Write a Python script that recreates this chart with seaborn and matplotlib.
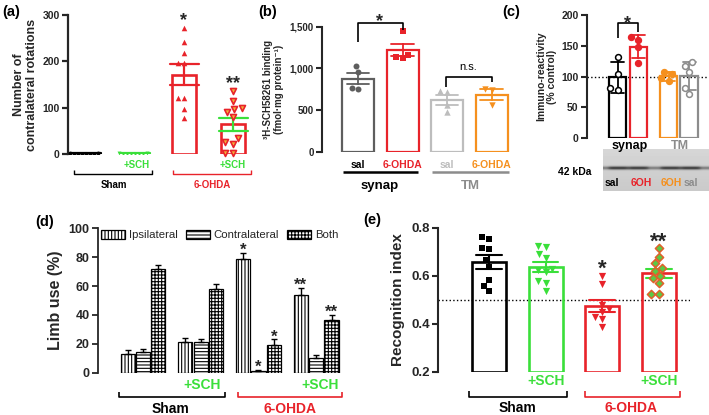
import numpy as np
import pandas as pd
import matplotlib
matplotlib.use("Agg")
import matplotlib.pyplot as plt
import matplotlib.transforms as mtransforms
import matplotlib.patches as mpatches
from matplotlib.ticker import StrMethodFormatter
import seaborn as sns

# ---------------- data ----------------
a_groups = ["Sham", "Sham+SCH", "6-OHDA", "6-OHDA+SCH"]
a_sham = [0, 1, 0, 2, 1, 0, 2, 1]
a_sham_sch = [0, 1, 2, 0, 1, 0, 2, 1]
a_ohda = [272, 242, 218, 196, 196, 121, 121, 97, 78]
a_ohda_sch = [135, 115, 100, 98, 90, 80, 35, 25, 22, 3, 2]
a_yticks = [0, 100, 200, 300]

b_conditions = ["synap sal", "synap 6-OHDA", "TM sal", "TM 6-OHDA"]
b_ticklabels = ["sal", "6-OHDA", "sal", "6-OHDA"]
b_sal_synap = [1028, 962, 764, 752]
b_ohda_synap = [1450, 1160, 1140, 1130]
b_sal_tm = [725, 715, 560, 480]
b_ohda_tm = [750, 745, 560]
b_yticks = [0, 500, 1000, 1500]

c_regions = ["synap", "TM"]
c_lanes = ["sal", "6OH", "6OH", "sal"]
c_lane_region = ["synap", "synap", "TM", "TM"]
c_sal_synap = [132, 104, 81, 78]
c_ohda_synap = [165, 160, 148, 122]
c_ohda_tm = [108, 104, 97, 93]
c_sal_tm = [123, 118, 108, 82, 72]
c_yticks = [0, 50, 100, 150, 200]

d_groups = ["Sham", "Sham+SCH", "6-OHDA", "6-OHDA+SCH"]
d_sides = ["Ipsilateral", "Contralateral", "Both"]
d_ipsi = [13, 21, 79, 54]
d_contra = [14, 21, 1.5, 10]
d_both = [72, 58, 19.5, 36.5]
d_ipsi_sem = [3, 3, 4, 5]
d_contra_sem = [2.5, 2, 0.5, 2.5]
d_both_sem = [2.5, 3.5, 3.5, 3.5]
d_yticks = [0, 20, 40, 60, 80, 100]
d_sig = [("6-OHDA", "Ipsilateral", "*"), ("6-OHDA", "Contralateral", "*"),
         ("6-OHDA", "Both", "*"), ("6-OHDA+SCH", "Ipsilateral", "**"),
         ("6-OHDA+SCH", "Both", "**")]

e_groups = ["Sham", "Sham+SCH", "6-OHDA", "6-OHDA+SCH"]
e_sham = [0.753, 0.763, 0.714, 0.71, 0.665, 0.638, 0.582, 0.558, 0.536]
e_sham_sch = [0.725, 0.72, 0.69, 0.675, 0.63, 0.625, 0.615, 0.58, 0.57, 0.535]
e_ohda = [0.60, 0.565, 0.48, 0.46, 0.45, 0.43, 0.42, 0.385]
e_ohda_sch = [0.714, 0.679, 0.651, 0.633, 0.62, 0.60, 0.59, 0.57, 0.522, 0.522]
e_yticks = [0.2, 0.4, 0.6, 0.8]

# ---------------- style ----------------
sns.set_theme(style="ticks")
plt.rcParams["font.family"] = ["Liberation Sans", "DejaVu Sans"]
plt.rcParams["font.weight"] = "bold"
plt.rcParams["axes.labelweight"] = "bold"
plt.rcParams["hatch.linewidth"] = 0.8

RED = "#E8232A"
GREEN = "#3ADF3A"
ORANGE = "#F5901E"
DGRAY = "#5E5E5E"
LGRAY = "#BDBDBD"
GRAY = "#8C8C8C"
BLACK = "black"

W, H = 709, 415
fig = plt.figure(figsize=(W / 100, H / 100), dpi=100)
fig.patch.set_facecolor("white")
PX = mtransforms.Affine2D().scale(1 / W, -1 / H).translate(0, 1) + fig.transFigure


def add_ax(x0, x1, ytop, ybot):
    return fig.add_axes([x0 / W, 1 - ybot / H, (x1 - x0) / W, (ybot - ytop) / H])


def txt(x, y, s, size, color=BLACK, weight="bold", ha="center", va="center"):
    fig.text(x, y, s, transform=PX, fontsize=size, color=color,
             fontweight=weight, ha=ha, va=va)


def star(x, yc, s, size):
    base = yc + 0.58 * size * 100 / 72
    fig.text(x, base, s, transform=PX, fontsize=size, ha="center",
             va="baseline", fontweight="bold")


def line(xs, ys, color=BLACK, lw=1.2):
    fig.add_artist(plt.Line2D(xs, ys, transform=PX, color=color, lw=lw,
                              solid_capstyle="butt"))


def group_bracket(x0, x1, y, tick, color, lw=1.2):
    line([x0, x0, x1, x1], [y - tick, y, y, y - tick], color, lw)


def style_ax(ax, tick_size, lw=1.5, ylabel="", ylabel_size=9, labelpad=3):
    sns.despine(ax=ax, bottom=True)
    ax.spines["left"].set_linewidth(lw)
    ax.tick_params(axis="y", labelsize=tick_size, width=lw, length=4, pad=2)
    ax.tick_params(axis="x", length=0)
    ax.set_xlabel("")
    ax.set_ylabel(ylabel, fontsize=ylabel_size, fontweight="bold",
                  labelpad=labelpad, linespacing=1.15)
    ax.set_facecolor("none")


def outline_bars(ax, colors, lw):
    ps = sorted(ax.patches, key=lambda p: p.get_x())
    for p, c in zip(ps, colors):
        p.set_facecolor("none")
        p.set_edgecolor(c)
        p.set_linewidth(lw)


def color_lines(ax, colors):
    ls = sorted(ax.lines, key=lambda l: np.nanmean(np.asarray(l.get_xdata(), float)))
    for l, c in zip(ls, colors):
        l.set_color(c)


def swarm(ax, df, xcol, ycol, group, order, marker, fc, ec, size, lw=0.0):
    sub = df[df[xcol] == group]
    sns.swarmplot(data=sub, x=xcol, y=ycol, order=order, marker=marker,
                  color=fc, size=size, ax=ax, warn_thresh=1, legend=False)
    col = ax.collections[-1]
    col.set_facecolor(fc)
    col.set_edgecolor(ec)
    col.set_linewidth(lw)
    col.set_clip_on(False)


def long_df(groups, arrays, gcol="group", vcol="value"):
    return pd.DataFrame({gcol: np.repeat(groups, [len(a) for a in arrays]),
                         vcol: np.concatenate([np.asarray(a, float) for a in arrays])})


# ================= panel (a) =================
df_a = long_df(a_groups, [a_sham, a_sham_sch, a_ohda, a_ohda_sch])
ax = add_ax(68, 252, 15, 154)
sns.barplot(data=df_a, x="group", y="value", order=a_groups, errorbar="se",
            capsize=0.6, width=0.49, err_kws={"linewidth": 1.6}, ax=ax)
outline_bars(ax, [BLACK, GREEN, RED, RED], 1.9)
color_lines(ax, [BLACK, GREEN, RED, GREEN])
swarm(ax, df_a, "group", "value", "Sham", a_groups, "o", BLACK, BLACK, 2.8)
swarm(ax, df_a, "group", "value", "Sham+SCH", a_groups, "v", GREEN, GREEN, 2.8)
swarm(ax, df_a, "group", "value", "6-OHDA", a_groups, "^", RED, RED, 4.0)
swarm(ax, df_a, "group", "value", "6-OHDA+SCH", a_groups, "v", "#F2B23A", RED, 4.3, 1.2)
ax.set_ylim(0, 300)
ax.set_yticks(a_yticks)
ax.set_xlim(-0.367, 3.38)
ax.set_xticks([])
style_ax(ax, 7.5, 1.6, "Number of\ncontralateral rotations", 9, 3)

txt(2, 12, "(a)", 10.5, ha="left")
star(184, 15, "*", 13)
star(233, 78, "**", 13)
txt(137, 164.5, "+SCH", 7, GREEN)
txt(233, 164.5, "+SCH", 7, GREEN)
group_bracket(74, 152, 174, 4, BLACK, 1.0)
group_bracket(173, 251, 174, 4, RED, 1.0)
txt(114, 185, "Sham", 7)
txt(212, 185, "6-OHDA", 7, RED)

# ================= panel (b) =================
df_b = long_df(b_conditions, [b_sal_synap, b_ohda_synap, b_sal_tm, b_ohda_tm], "cond")
ax = add_ax(322, 512, 26.7, 151.7)
sns.barplot(data=df_b, x="cond", y="value", order=b_conditions, errorbar="se",
            capsize=0.5, width=0.72, err_kws={"linewidth": 1.3}, ax=ax)
b_colors = [DGRAY, RED, LGRAY, ORANGE]
outline_bars(ax, b_colors, 1.6)
color_lines(ax, b_colors)
swarm(ax, df_b, "cond", "value", b_conditions[0], b_conditions, "o", DGRAY, DGRAY, 4.3)
swarm(ax, df_b, "cond", "value", b_conditions[1], b_conditions, "s", RED, RED, 4.3)
swarm(ax, df_b, "cond", "value", b_conditions[2], b_conditions, "^", LGRAY, LGRAY, 4.6)
swarm(ax, df_b, "cond", "value", b_conditions[3], b_conditions, "v", ORANGE, ORANGE, 4.6)
ax.set_ylim(0, 1500)
ax.set_yticks(b_yticks)
ax.yaxis.set_major_formatter(StrMethodFormatter("{x:,.0f}"))
ax.set_xlim(-0.81, 3.46)
ax.set_xticks(range(len(b_ticklabels)))
ax.set_xticklabels(b_ticklabels)
style_ax(ax, 7, 1.5, "³H-SCH58261 binding\n(fmol·mg protein⁻¹)", 7, 4)
ax.tick_params(axis="x", labelsize=7.5, pad=6)
for lab, c in zip(ax.get_xticklabels(), [BLACK, RED, LGRAY, ORANGE]):
    lab.set_color(c)
    lab.set_fontweight("bold")

txt(258, 12, "(b)", 10.5, ha="left")
line([358, 358, 403, 403], [42.5, 23, 23, 30], BLACK, 1.2)
star(380, 16, "*", 13)
line([446, 446, 491.5, 491.5], [87, 77, 77, 82], BLACK, 1.2)
txt(468, 67, "n.s.", 8, weight="normal")
line([343, 418], [172.5, 172.5], BLACK, 1.8)
line([432, 509], [172.5, 172.5], GRAY, 1.8)
txt(380, 186, "synap", 9.5)
txt(470, 186, "TM", 9.5, GRAY)

# ================= panel (c) =================
c_slot = pd.Series(c_lane_region).groupby(c_lane_region).cumcount().map(
    {0: "first", 1: "second"}).tolist()
c_arrays = [c_sal_synap, c_ohda_synap, c_ohda_tm, c_sal_tm]
df_c = pd.DataFrame({
    "region": np.repeat(c_lane_region, [len(a) for a in c_arrays]),
    "slot": np.repeat(c_slot, [len(a) for a in c_arrays]),
    "value": np.concatenate([np.asarray(a, float) for a in c_arrays]),
})
ax = add_ax(587, 707, 15, 138.3)
sns.barplot(data=df_c, x="region", y="value", hue="slot", order=c_regions,
            hue_order=["first", "second"], errorbar="sd", capsize=0.5,
            width=0.8, gap=0.15, err_kws={"linewidth": 1.3}, legend=False, ax=ax)
c_colors = [BLACK, RED, ORANGE, GRAY]
outline_bars(ax, c_colors, 1.6)
color_lines(ax, c_colors)
sns.swarmplot(data=df_c, x="region", y="value", hue="slot", order=c_regions,
              hue_order=["first", "second"], dodge=True, size=4.2,
              legend=False, warn_thresh=1, ax=ax)
c_face = ["white", RED, ORANGE, "white"]
c_edge = [BLACK, RED, ORANGE, GRAY]
cols = sorted(ax.collections, key=lambda c: np.mean(c.get_offsets()[:, 0]))
for col, fc, ec in zip(cols, c_face, c_edge):
    col.set_facecolor(fc)
    col.set_edgecolor(ec)
    col.set_linewidth(1.1)
    col.set_clip_on(False)
ax.axhline(100, ls=":", color=BLACK, lw=1.0, zorder=0.5)
ax.set_ylim(0, 200)
ax.set_yticks(c_yticks)
ax.set_xlim(-0.804, 1.55)
ax.set_xticks([])
style_ax(ax, 7.5, 1.5, "Immuno-reactivity\n(% control)", 7.5, 3)

txt(502, 12, "(c)", 10.5, ha="left")
line([618, 618, 638, 638], [38, 23, 23, 32], BLACK, 1.2)
star(628, 18, "*", 13)

# western blot strip (illustrative image)
axb = add_ax(603, 709, 149.3, 191)
rows, ncols = 42, 106
yy = np.arange(rows)[:, None]
xx = np.arange(ncols)[None, :]
lane_centres = [15, 35, 67, 87]
lane = sum(np.exp(-((xx - c) / 10.0) ** 6) for c in lane_centres)
band = np.exp(-((yy - 18.5) / 1.7) ** 2)
img = 0.79 + 0.05 * (1 - yy / rows) - 0.58 * band * (0.55 + 0.45 * lane)
axb.imshow(img, cmap="gray", vmin=0, vmax=1, aspect="auto", interpolation="bilinear")
axb.set_axis_off()

txt(630, 146, "synap", 9)
txt(680, 146, "TM", 9, GRAY)
txt(575, 171.5, "42 kDa", 7.5)
for x, lab, c in zip([612, 641, 671, 691], c_lanes, [BLACK, RED, ORANGE, GRAY]):
    txt(x, 183, lab, 7.5, c)

# ================= panel (d) =================
df_d = pd.DataFrame({
    "group": np.tile(d_groups, len(d_sides)),
    "side": np.repeat(d_sides, len(d_groups)),
    "value": d_ipsi + d_contra + d_both,
    "sem": d_ipsi_sem + d_contra_sem + d_both_sem,
})
ax = add_ax(98, 345, 228.3, 372.7)
sns.barplot(data=df_d, x="group", y="value", hue="side", order=d_groups,
            hue_order=d_sides, errorbar=None, width=0.8, gap=0.08,
            legend=False, ax=ax)
hatches = {"Ipsilateral": "|||||", "Contralateral": "-----", "Both": "+++++"}
bar_pos = {}
for p, (_, row) in zip(ax.patches, df_d.iterrows()):
    p.set_facecolor("white")
    p.set_edgecolor(BLACK)
    p.set_linewidth(0.9)
    p.set_hatch(hatches[row["side"]])
    xc = p.get_x() + p.get_width() / 2
    bar_pos[(row["group"], row["side"])] = (xc, p.get_height(), row["sem"])
    ax.errorbar([xc], [p.get_height()], yerr=[[0], [row["sem"]]], fmt="none",
                ecolor=BLACK, elinewidth=1.0, capsize=2.5, capthick=1.0)
for g, s, lab in d_sig:
    xc, h, sem = bar_pos[(g, s)]
    ax.annotate(lab, xy=(xc, h + sem), xytext=(0, -1.5), textcoords="offset points",
                ha="center", va="baseline", fontsize=12, fontweight="bold",
                annotation_clip=False)
ax.set_ylim(0, 100)
ax.set_yticks(d_yticks)
ax.set_xlim(-0.78, 3.5)
ax.set_xticks([])
style_ax(ax, 9, 1.3, "Limb use (%)", 11.5, 4)
handles = [mpatches.Patch(facecolor="white", edgecolor=BLACK, hatch=hatches[s],
                          label=s, linewidth=0.9) for s in d_sides]
ax.legend(handles=handles, ncol=3, loc="upper left", bbox_to_anchor=(99, 228),
          bbox_transform=PX, frameon=False, prop={"size": 8.2, "weight": "normal"},
          handlelength=2.1, handleheight=0.75, handletextpad=0.35,
          columnspacing=0.7, borderaxespad=0, borderpad=0.2)

txt(35, 222, "(d)", 10.5, ha="left")
txt(202, 385, "+SCH", 10, GREEN)
txt(320, 385, "+SCH", 10, GREEN)
group_bracket(119, 225, 396.7, 5, BLACK, 1.2)
group_bracket(238, 342, 396.7, 5, RED, 1.2)
txt(170, 409, "Sham", 10)
txt(290, 409, "6-OHDA", 10, RED)

# ================= panel (e) =================
df_e = long_df(e_groups, [e_sham, e_sham_sch, e_ohda, e_ohda_sch])
ax = add_ax(438, 690, 227.7, 371.7)
sns.barplot(data=df_e, x="group", y="value", order=e_groups, errorbar="se",
            capsize=0.45, width=0.6, err_kws={"linewidth": 1.5}, ax=ax)
e_floor = e_yticks[0]
for p in ax.patches:
    top = p.get_y() + p.get_height()
    p.set_y(e_floor)
    p.set_height(top - e_floor)
outline_bars(ax, [BLACK, GREEN, RED, RED], 1.9)
color_lines(ax, [BLACK, GREEN, RED, GREEN])
swarm(ax, df_e, "group", "value", "Sham", e_groups, "s", BLACK, BLACK, 5.0)
swarm(ax, df_e, "group", "value", "Sham+SCH", e_groups, "v", GREEN, GREEN, 5.2)
swarm(ax, df_e, "group", "value", "6-OHDA", e_groups, "v", RED, RED, 5.2)
swarm(ax, df_e, "group", "value", "6-OHDA+SCH", e_groups, "D", "#5CC845", "#E0602A", 4.2, 1.1)
ax.axhline(0.5, ls=":", color=BLACK, lw=1.0, zorder=0.5)
ax.set_ylim(0.2, 0.8)
ax.set_yticks(e_yticks)
ax.set_xlim(-0.9, 3.55)
ax.set_xticks([])
style_ax(ax, 9.5, 1.5, "Recognition index", 11, 4)

txt(363, 220, "(e)", 10.5, ha="left")
star(602, 262, "*", 16)
star(659, 235, "**", 16)
txt(546, 381, "+SCH", 10, GREEN)
txt(659, 381, "+SCH", 10, GREEN)
group_bracket(469, 567, 396.7, 6, BLACK, 1.2)
group_bracket(585, 680, 396.7, 6, RED, 1.2)
txt(517, 408, "Sham", 10)
txt(631, 408, "6-OHDA", 10, RED)

fig.savefig("out.png", dpi=100, facecolor="white")
